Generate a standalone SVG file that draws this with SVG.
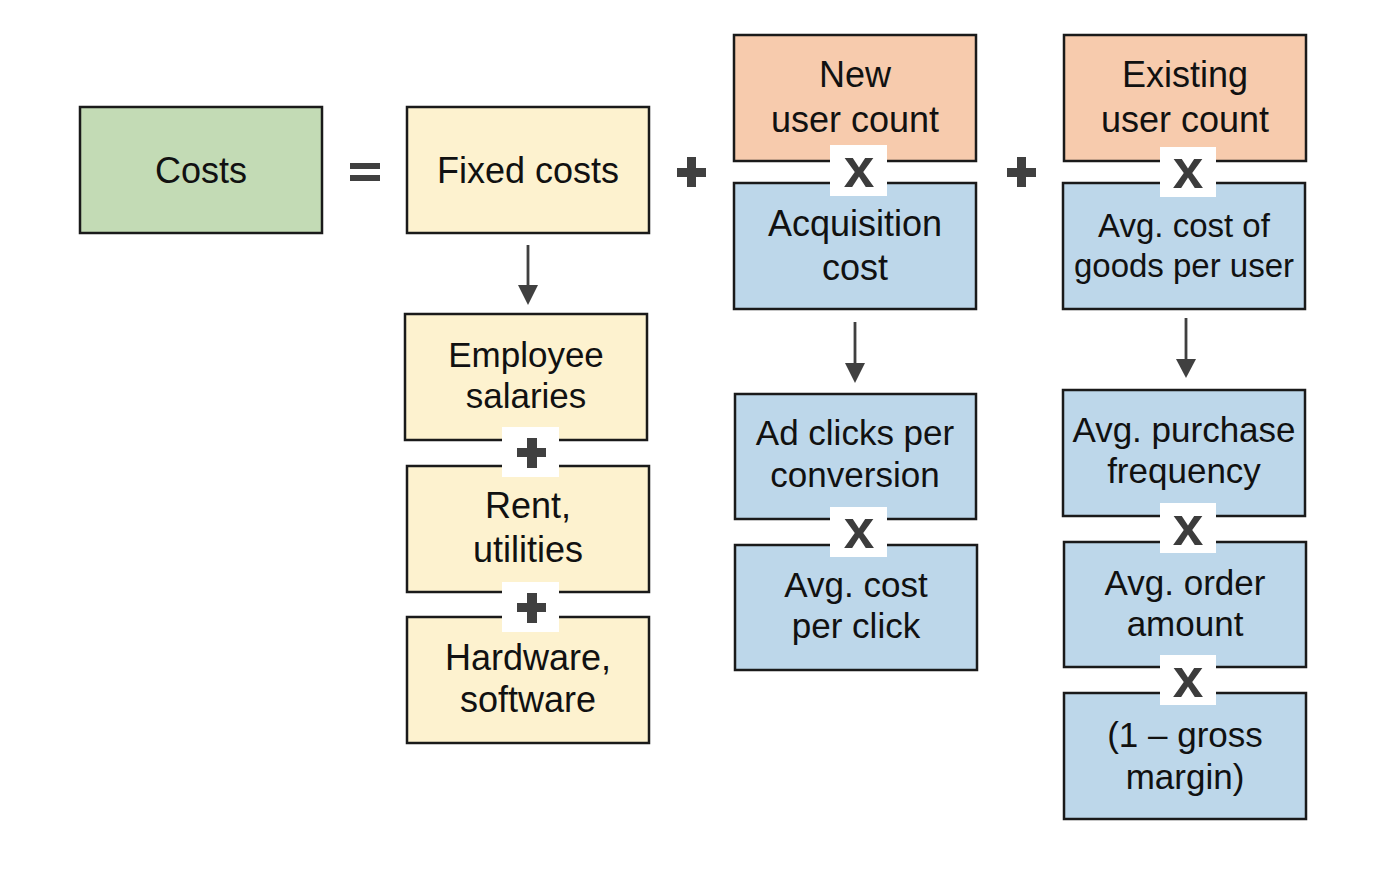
<svg xmlns="http://www.w3.org/2000/svg" width="1400" height="872" viewBox="0 0 1400 872">
<style>
.box{stroke:#1a1a1a;stroke-width:2.5}
.g{fill:#c3dbb5}.y{fill:#fdf2cf}.o{fill:#f7cbad}.b{fill:#bdd7ea}
text{font-family:"Liberation Sans",Arial,Helvetica,sans-serif;fill:#111;text-anchor:middle}
.t{font-size:36px}
.m{font-size:35px}
.s{font-size:33px}
.op{fill:#404040}
.badge{fill:#fff}
.xg{font-size:55px;font-weight:bold;fill:#3c3c3c}
.conn{stroke:#404040;stroke-width:2.8;fill:none}
</style>
<rect width="1400" height="872" fill="#fff"/>

<g id="costs">
<rect class="box g" x="80" y="107" width="242" height="126"/>
<text class="t" x="201" y="183">Costs</text>
</g>
<g id="equals" class="op">
<rect x="350" y="163" width="30" height="6"/>
<rect x="350" y="175" width="30" height="6"/>
</g>
<g id="fixed">
<rect class="box y" x="407" y="107" width="242" height="126"/>
<text class="t" x="528" y="183">Fixed costs</text>
</g>
<g id="plus1" class="op">
<rect x="677" y="168" width="29" height="9"/>
<rect x="687" y="157" width="9" height="30"/>
</g>
<g id="newusers">
<rect class="box o" x="734" y="35" width="242" height="126"/>
<text class="t" x="855" y="87">New</text>
<text class="t" x="855" y="132">user count</text>
</g>
<g id="acq">
<rect class="box b" x="734" y="183" width="242" height="126"/>
<text class="t" x="855" y="236">Acquisition</text>
<text class="t" x="855" y="280">cost</text>
</g>
<g id="plus2" class="op">
<rect x="1007" y="168" width="29" height="9"/>
<rect x="1017" y="157" width="9" height="30"/>
</g>
<g id="existing">
<rect class="box o" x="1064" y="35" width="242" height="126"/>
<text class="t" x="1185" y="87">Existing</text>
<text class="t" x="1185" y="132">user count</text>
</g>
<g id="cogs">
<rect class="box b" x="1063" y="183" width="242" height="126"/>
<text class="s" x="1184" y="237">Avg. cost of</text>
<text class="s" x="1184" y="277">goods per user</text>
</g>

<g id="employee">
<rect class="box y" x="405" y="314" width="242" height="126"/>
<text class="m" x="526" y="367">Employee</text>
<text class="m" x="526" y="408">salaries</text>
</g>
<g id="rent">
<rect class="box y" x="407" y="466" width="242" height="126"/>
<text class="t" x="528" y="518">Rent,</text>
<text class="t" x="528" y="562">utilities</text>
</g>
<g id="hardware">
<rect class="box y" x="407" y="617" width="242" height="126"/>
<text class="t" x="528" y="670">Hardware,</text>
<text class="t" x="528" y="712">software</text>
</g>

<g id="adclicks">
<rect class="box b" x="735" y="394" width="241" height="125"/>
<text class="m" x="855" y="445">Ad clicks per</text>
<text class="m" x="855" y="487">conversion</text>
</g>
<g id="cpc">
<rect class="box b" x="735" y="545" width="242" height="125"/>
<text class="m" x="856" y="597">Avg. cost</text>
<text class="m" x="856" y="638">per click</text>
</g>

<g id="freq">
<rect class="box b" x="1063" y="390" width="242" height="126"/>
<text class="m" x="1184" y="442">Avg. purchase</text>
<text class="m" x="1184" y="483">frequency</text>
</g>
<g id="order">
<rect class="box b" x="1064" y="542" width="242" height="125"/>
<text class="m" x="1185" y="595">Avg. order</text>
<text class="m" x="1185" y="636">amount</text>
</g>
<g id="margin">
<rect class="box b" x="1064" y="693" width="242" height="126"/>
<text class="m" x="1185" y="747">(1 – gross</text>
<text class="m" x="1185" y="789">margin)</text>
</g>

<g id="operators">
<rect class="badge" x="830" y="145" width="57" height="51"/>
<text class="xg" x="859" y="187">x</text>
<rect class="badge" x="1160" y="147" width="56" height="50"/>
<text class="xg" x="1188" y="188">x</text>
<rect class="badge" x="502" y="427" width="57" height="50"/>
<rect class="op" x="517" y="448" width="29" height="9"/>
<rect class="op" x="527" y="438" width="10" height="30"/>
<rect class="badge" x="502" y="582" width="57" height="50"/>
<rect class="op" x="517" y="603" width="29" height="9"/>
<rect class="op" x="527" y="593" width="10" height="30"/>
<rect class="badge" x="830" y="507" width="57" height="50"/>
<text class="xg" x="859" y="548">x</text>
<rect class="badge" x="1160" y="503" width="56" height="50"/>
<text class="xg" x="1188" y="545">x</text>
<rect class="badge" x="1160" y="655" width="56" height="50"/>
<text class="xg" x="1188" y="697">x</text>
</g>

<g id="connectors">
<line class="conn" x1="528" y1="245" x2="528" y2="287"/>
<polygon class="op" points="518,285 538,285 528,305"/>
<line class="conn" x1="855" y1="322" x2="855" y2="365"/>
<polygon class="op" points="845,363 865,363 855,383"/>
<line class="conn" x1="1186" y1="318" x2="1186" y2="361"/>
<polygon class="op" points="1176,359 1196,359 1186,378"/>
</g>
</svg>
